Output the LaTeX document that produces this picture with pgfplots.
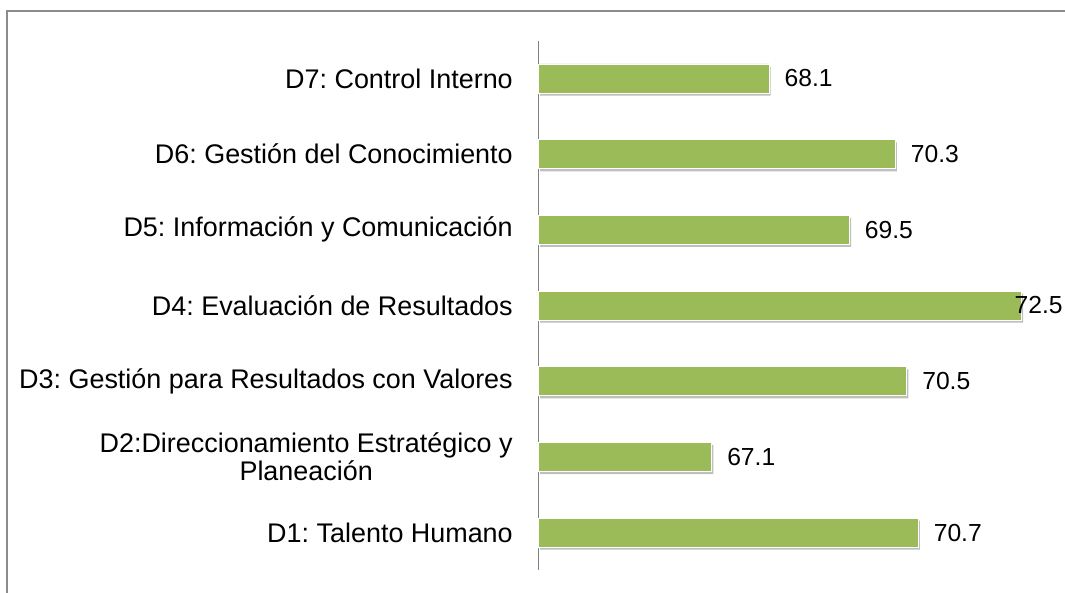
\documentclass[border=0pt]{standalone}
\usepackage{pgfplots}
\pgfplotsset{compat=1.18}
\usepackage{fontspec}
\setmainfont{Liberation Sans}
\definecolor{bargreen}{HTML}{9BBB59}
\begin{document}
\frenchspacing
\begin{tikzpicture}
\useasboundingbox (0,0) rectangle (798.75pt,444.75pt);
\draw[draw=gray!90, line width=1.5pt] (5.25pt,-20pt) -- (5.25pt,436.5pt) -- (830pt,436.5pt);
\begin{axis}[
  at={(403.9pt,16.95pt)}, anchor=south west,
  scale only axis, width=362.25pt, height=397.35pt,
  xbar, bar width=21.75pt, bar shift=0pt,
  xmin=64.08, xmax=72.5, ymin=0.5, ymax=7.5,
  axis x line=none, axis y line=left,
  y axis line style={-, draw=gray, line width=1pt},
  ytick={1,...,7}, major tick length=0pt,
  yticklabels={D1: Talento Humano, {D2:Direccionamiento Estratégico y\\Planeación}, D3: Gestión para Resultados con Valores, D4: Evaluación de Resultados, D5: Información y Comunicación, D6: Gestión del Conocimiento, D7: Control Interno},
  yticklabel style={align=center, font=\fontsize{20.2}{21}\selectfont\frenchspacing, xshift=-15.8pt},
  clip=false,
  nodes near coords, point meta=explicit symbolic,
  every node near coord/.append style={font=\fontsize{18.5}{20}\selectfont, anchor=west, xshift=8pt, black},
]
\addplot[fill=black, draw=none, opacity=0.25, xshift=1.2pt, yshift=-2pt, nodes near coords={}] coordinates {
(70.7,1) (67.1,2) (70.5,3) (72.5,4) (69.5,5) (70.3,6) (68.1,7)};
\addplot[fill=bargreen, draw=white, line width=0.6pt] coordinates {
(70.7,1) [70.7] (67.1,2) [67.1] (70.5,3) [70.5] (69.5,5) [69.5] (70.3,6) [70.3] (68.1,7) [68.1]};
\addplot[fill=bargreen, draw=white, line width=0.6pt, every node near coord/.append style={xshift=-16.8pt}] coordinates {
(72.5,4) [72.5]};
\end{axis}
\end{tikzpicture}
\end{document}
